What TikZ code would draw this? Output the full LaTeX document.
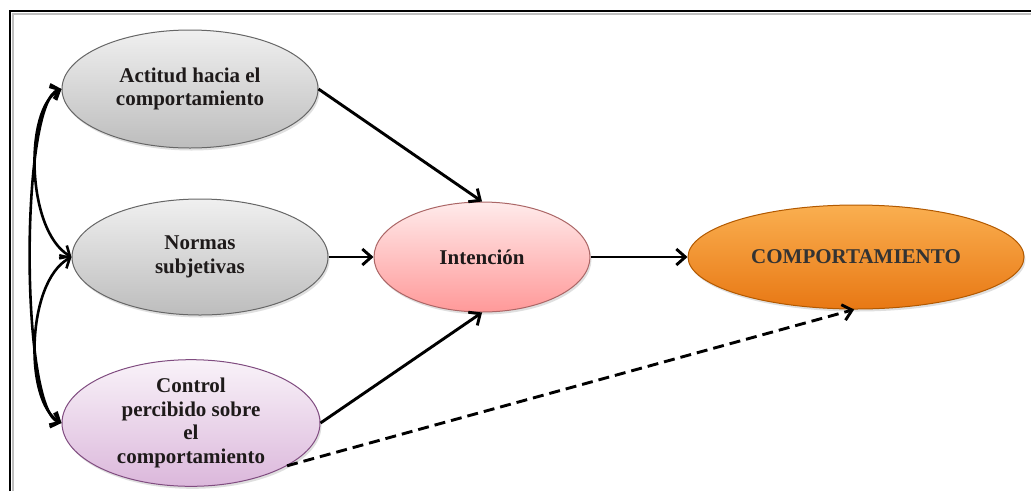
\documentclass[tikz,border=0pt]{standalone}
\usepackage{fontspec}
\setmainfont{Liberation Serif}
\usetikzlibrary{arrows.meta,shapes.geometric,shadows}
\definecolor{txt}{HTML}{1E1A1A}
\tikzset{
  ov/.style={ellipse, inner sep=0pt, draw=#1, line width=1pt, align=center,
    font=\fontsize{21}{23.5}\selectfont\bfseries, text=txt,
    drop shadow={shadow xshift=1.5pt, shadow yshift=-2.5pt, opacity=0.25}},
  grayov/.style={ov={black!60}, top color=black!6, bottom color=black!26},
  pinkov/.style={ov={red!45!black!60}, top color=red!8, bottom color=red!40},
  lavov/.style={ov={violet!40!gray}, top color=violet!5, bottom color=violet!28},
  orangeov/.style={ov={orange!70!black}, top color={rgb,255:red,250;green,175;blue,80}, bottom color={rgb,255:red,232;green,120;blue,20}},
  arr/.style={line width=2.9pt, -{Straight Barb[length=9pt,width=16pt,line width=2.9pt]}},
  darr/.style={line width=2.6pt, {Straight Barb[length=8pt,width=15pt,line width=2.6pt]}-{Straight Barb[length=8pt,width=15pt,line width=2.6pt]}},
  dsh/.style={arr, dash pattern=on 11pt off 6pt}
}
\begin{document}
\begin{tikzpicture}[x=1pt,y=-1pt]
\useasboundingbox (0,0) rectangle (1031,491);
\fill[white] (0,0) rectangle (1031,491);
% frame
\draw[black!25, line width=2pt] (13,491) -- (13,14) -- (1031,14);
\draw[black, line width=2.4pt] (10,491) -- (10,11) -- (1031,11);

\node[grayov, minimum width=256pt, minimum height=118pt] (a) at (190,89) {Actitud hacia el\\comportamiento};
\node[grayov, minimum width=256pt, minimum height=116pt] (n) at (200,257) {Normas\\subjetivas};
\node[lavov, minimum width=258pt, minimum height=110pt] (c) at (191,423) {Control\\percibido sobre\\el\\comportamiento};
\node[pinkov, minimum width=216pt, minimum height=110pt] (i) at (482,257) {Intención};
\node[orangeov, minimum width=336pt, minimum height=104pt, font=\fontsize{21}{24}\selectfont\bfseries, text=black!80] (o) at (856,257) {COMPORTAMIENTO};

\draw[arr] (a.east) -- (i.north);
\draw[arr] (n.east) -- (i.west);
\draw[arr] (c.east) -- (i.south);
\draw[arr] (i.east) -- (o.west);
\draw[dsh] (c.-24) -- (o.-92);

\draw[darr] (a.west) .. controls (20,100) and (20,410) .. (c.west);
\draw[darr] (a.west) .. controls (24,108) and (26,230) .. (n.west);
\draw[darr] (n.west) .. controls (26,282) and (24,402) .. (c.west);
\end{tikzpicture}
\end{document}
